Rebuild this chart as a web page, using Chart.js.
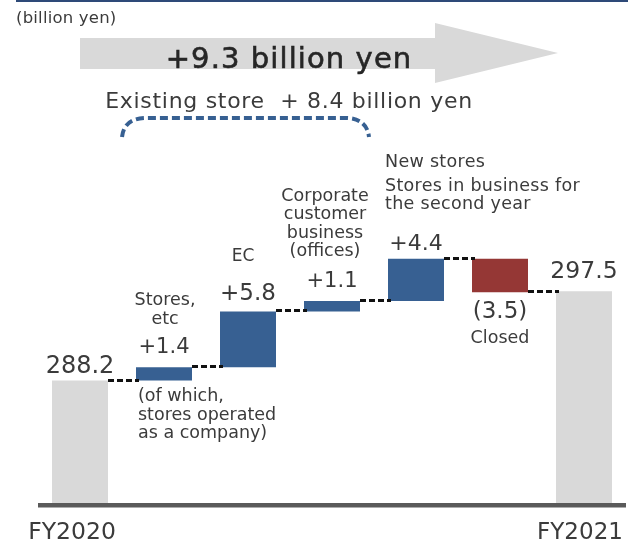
<!DOCTYPE html>
<html>
<head>
<meta charset="utf-8">
<script src="https://cdn.jsdelivr.net/npm/chart.js@4/dist/chart.umd.min.js"></script>
<style>
  html, body { margin: 0; padding: 0; background: #ffffff; }
  #wrap { width: 628px; height: 541px; }
</style>
</head>
<body>
<div id="wrap"><canvas id="c" width="628" height="541"></canvas></div>
<script>
// ---- data ----
const categories = [
  ['FY2020'],
  ['Stores,', 'etc'],
  ['EC'],
  ['Corporate', 'customer', 'business', '(offices)'],
  ['New stores', 'Stores in business for', 'the second year'],
  ['Closed'],
  ['FY2021']
];
const openingTotal = 288.2;
const closingTotal = 297.5;
const changes = [1.4, 5.8, 1.1, 4.4, -3.5];
const valueLabels = ['288.2', '+1.4', '+5.8', '+1.1', '+4.4', '(3.5)', '297.5'];
const storeNote = ['(of which,', 'stores operated', 'as a company)'];
const unitLabel = '(billion yen)';
const totalChangeLabel = '+9.3 billion yen';
const existingStoreLabel = 'Existing store  + 8.4 billion yen';
const existingStoreBars = [1, 3];

// ---- waterfall construction ----
const barValues = [openingTotal];
const levels = [openingTotal];
let running = openingTotal;
changes.forEach(d => {
  barValues.push([running, running + d]);
  running += d;
  levels.push(running);
});
barValues.push(closingTotal);

const GREY = '#d9d9d9';
const BLUE = '#376092';
const RED = '#953735';
const TEXT = '#3b3b3b';
const barColors = [GREY, ...changes.map(d => d >= 0 ? BLUE : RED), GREY];

const FONT = '"DejaVu Sans", "Noto Sans CJK JP", sans-serif';

function drawText(ctx, str, x, y, size, opts = {}) {
  ctx.save();
  ctx.font = `${opts.weight || 'normal'} ${size}px ${FONT}`;
  ctx.letterSpacing = `${opts.spacing || 0}px`;
  ctx.fillStyle = opts.color || TEXT;
  ctx.textAlign = opts.align || 'center';
  ctx.textBaseline = 'alphabetic';
  ctx.fillText(str, x, y);
  if (opts.stroke) {
    ctx.strokeStyle = opts.color || TEXT;
    ctx.lineWidth = opts.stroke;
    ctx.strokeText(str, x, y);
  }
  ctx.restore();
}

// label placement relative to each bar (pixels)
const valueStyle = [
  { size: 24, dy: -8 },
  { size: 21, dy: -14 },
  { size: 23, dy: -11.5 },
  { size: 21, dy: -14 },
  { size: 22, dy: -9 },
  { size: 23, dy: 25.5, below: true },
  { size: 23.5, dy: -13.5 }
];
const nameStyle = [
  null,
  { size: 17.5, dy: -62, lh: 18.7, align: 'center', dx: 1 },
  { size: 17, dy: -50, lh: 18, align: 'center', dx: -5 },
  { size: 17.5, dy: -100, lh: 18.3, align: 'center', dx: -7 },
  { size: 17.5, dy: -91.3, lh: 22, align: 'left', extra: [0, 1.3, -2], spacing: 0.3 },
  { size: 17.5, dy: 51, lh: 18, align: 'center', dx: 0, below: true },
  null
];

const waterfallDecor = {
  id: 'waterfallDecor',
  afterDatasetsDraw(chart) {
    const ctx = chart.ctx;
    const y = chart.scales.y;
    const els = chart.getDatasetMeta(0).data;
    // dashed connectors between neighbouring bars
    ctx.save();
    ctx.strokeStyle = '#111111';
    ctx.lineWidth = 3;
    ctx.setLineDash([6, 3]);
    for (let i = 0; i < els.length - 1; i++) {
      const a = els[i], b = els[i + 1];
      const py = Math.round(y.getPixelForValue(levels[i])) - 0.5;
      ctx.beginPath();
      ctx.moveTo(a.x + a.width / 2, py);
      ctx.lineTo(b.x - b.width / 2 + 3, py);
      ctx.stroke();
    }
    ctx.restore();
  },
  afterDraw(chart) {
    const ctx = chart.ctx;
    const area = chart.chartArea;
    const els = chart.getDatasetMeta(0).data;
    const top = el => Math.min(el.y, el.base);
    const bottom = el => Math.max(el.y, el.base);

    // header rule
    ctx.save();
    ctx.fillStyle = '#2e4a78';
    ctx.fillRect(16, 0, 628 - 16, 2);
    ctx.restore();

    drawText(ctx, unitLabel, 16, 23, 16.5, { align: 'left', spacing: 0.2 });

    // overall growth arrow: from the opening bar to the closing bar
    const first = els[0], last = els[els.length - 1];
    const ax0 = first.x, ax1 = last.x - last.width / 2 + 2, aHead = 123;
    ctx.save();
    ctx.fillStyle = GREY;
    ctx.beginPath();
    ctx.moveTo(ax0, 38);
    ctx.lineTo(ax1 - aHead, 38);
    ctx.lineTo(ax1 - aHead, 23);
    ctx.lineTo(ax1, 53);
    ctx.lineTo(ax1 - aHead, 83);
    ctx.lineTo(ax1 - aHead, 69);
    ctx.lineTo(ax0, 69);
    ctx.closePath();
    ctx.fill();
    ctx.restore();
    drawText(ctx, totalChangeLabel, 289, 67.5, 29, { color: '#262626', spacing: 1.1, stroke: 0.6 });

    // existing store brace
    drawText(ctx, existingStoreLabel, 289, 108, 22, { spacing: 0.7 });
    const b0 = els[existingStoreBars[0]], b1 = els[existingStoreBars[1]];
    const bl = b0.x - b0.width / 2 - 14, br = b1.x + b1.width / 2 + 9;
    ctx.save();
    ctx.strokeStyle = BLUE;
    ctx.lineWidth = 4;
    ctx.setLineDash([8, 4]);
    ctx.beginPath();
    ctx.moveTo(bl, 137);
    ctx.quadraticCurveTo(bl + 2, 119, bl + 22, 118);
    ctx.lineTo(br - 22, 118);
    ctx.quadraticCurveTo(br - 2, 119, br, 137);
    ctx.stroke();
    ctx.restore();

    // axis line
    ctx.save();
    ctx.fillStyle = '#5a5a5a';
    ctx.fillRect(area.left, area.bottom, area.right - area.left, 4.5);
    ctx.restore();

    // value labels
    els.forEach((el, i) => {
      const s = valueStyle[i];
      const yy = s.below ? bottom(el) + s.dy : top(el) + s.dy;
      drawText(ctx, valueLabels[i], el.x, yy, s.size);
    });

    // category names
    els.forEach((el, i) => {
      const s = nameStyle[i];
      if (!s) return;
      const base = s.below ? bottom(el) : top(el);
      const x = s.align === 'left' ? el.x - el.width / 2 - 3 : el.x + s.dx;
      categories[i].forEach((line, k) => {
        const off = s.extra ? s.extra[k] : 0;
        drawText(ctx, line, x, base + s.dy + k * s.lh + off, s.size, { align: s.align, spacing: s.spacing || 0 });
      });
    });

    // note under the store bar
    const sb = els[1];
    storeNote.forEach((line, k) => {
      drawText(ctx, line, sb.x - sb.width / 2 + 2, bottom(sb) + 20.5 + k * 18.5, 17.5, { align: 'left' });
    });

    // fiscal year labels under the axis
    drawText(ctx, categories[0][0], first.x - 8, area.bottom + 35.5, 23.5);
    drawText(ctx, categories[6][0], last.x - 4, area.bottom + 35.5, 23);
  }
};

new Chart(document.getElementById('c'), {
  type: 'bar',
  data: {
    labels: categories,
    datasets: [{
      data: barValues,
      backgroundColor: barColors,
      borderWidth: 0,
      categoryPercentage: 2 / 3,
      barPercentage: 1
    }]
  },
  options: {
    responsive: false,
    animation: false,
    devicePixelRatio: 1,
    layout: { padding: { left: 38, right: 2, top: 0, bottom: 38 } },
    plugins: { legend: { display: false }, tooltip: { enabled: false } },
    scales: {
      x: { display: false, offset: true },
      y: { display: false, min: 275.45, max: 327.85 }
    }
  },
  plugins: [waterfallDecor]
});
</script>
</body>
</html>
